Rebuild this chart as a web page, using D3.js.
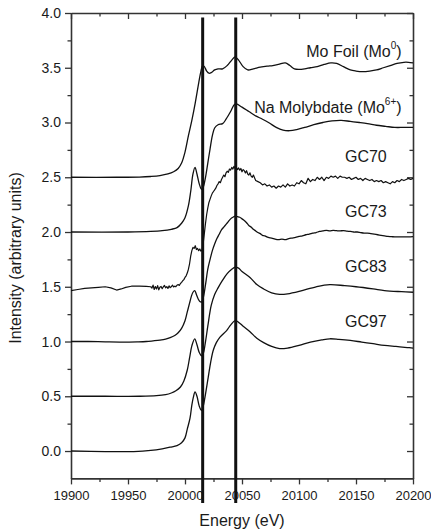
<!DOCTYPE html>
<html>
<head>
<meta charset="UTF-8">
<style>
  body { margin: 0; background: #ffffff; }
  svg text { font-family: Arial, "Liberation Sans", sans-serif; fill: #1a1a1a; }
  .axis path, .axis line { stroke: #333; }
</style>
<script src="https://cdn.jsdelivr.net/npm/d3@7"></script>
</head>
<body>
<svg id="chart" width="431" height="531"></svg>
<script>
// spectra as plotted (energy eV, intensity incl. vertical offset)
var moFoil = [[19900,2.5],[19940,2.5],[19960,2.502],[19970,2.507],[19978,2.515],[19985,2.53],[19990,2.55],[19994,2.58],[19997,2.63],[20000,2.73],[20003,2.88],[20006,3.02],[20009,3.18],[20012,3.36],[20014,3.47],[20015.5,3.52],[20017,3.51],[20019,3.47],[20021,3.45],[20023,3.455],[20026,3.48],[20029,3.49],[20033,3.49],[20037,3.52],[20041,3.57],[20044,3.6],[20047,3.57],[20051,3.51],[20055,3.48],[20060,3.49],[20066,3.505],[20072,3.515],[20077,3.52],[20082,3.53],[20088,3.545],[20092,3.52],[20096,3.49],[20100,3.485],[20105,3.49],[20110,3.5],[20116,3.51],[20122,3.53],[20128,3.545],[20133,3.54],[20139,3.51],[20145,3.48],[20150,3.47],[20156,3.465],[20162,3.47],[20168,3.48],[20174,3.5],[20180,3.52],[20186,3.54],[20192,3.55],[20196,3.55],[20200,3.545]];

var naMolybdate = [[19900,2.0],[19950,2.0],[19970,2.005],[19980,2.012],[19988,2.025],[19993,2.04],[19997,2.08],[20000,2.13],[20003,2.24],[20005,2.37],[20007,2.53],[20008.8,2.59],[20010.5,2.53],[20012.5,2.44],[20014.5,2.39],[20016,2.41],[20018,2.5],[20020,2.63],[20022,2.76],[20024,2.88],[20026,2.95],[20029,2.98],[20033,2.99],[20036,3.03],[20040,3.1],[20043,3.16],[20045,3.17],[20050,3.14],[20056,3.1],[20062,3.06],[20068,3.03],[20074,2.995],[20080,2.955],[20086,2.93],[20092,2.925],[20098,2.935],[20105,2.955],[20113,2.98],[20121,3.0],[20129,3.015],[20137,3.02],[20145,3.01],[20153,3.0],[20160,2.99],[20168,2.975],[20176,2.965],[20184,2.955],[20192,2.955],[20200,2.955]];

var gc70 = [[19900,1.465],[19906,1.475],[19912,1.485],[19918,1.49],[19924,1.495],[19930,1.5],[19935,1.49],[19940,1.47],[19944,1.48],[19948,1.495],[19953,1.505],[19960,1.505],[19966,1.503],[19970,1.5],
  [19971,1.488],[19972,1.515],[19973,1.475],[19974,1.502],[19975,1.48],[19976,1.51],[19977,1.472],[19978,1.495],[19979,1.503],[19980,1.482],[19981,1.5],[19982,1.512],[19983,1.49],[19984,1.502],[19985,1.485],[19986,1.508],[19987,1.492],[19988,1.5],[19989,1.515],[19990,1.498],[19991,1.506],[19992,1.5],[19993,1.514],[19994,1.52],[19995,1.512],[19996,1.53],[19997,1.54],[19998,1.555],[19999,1.565],[20000,1.585],
  [20001,1.6],[20002,1.625],[20003,1.66],[20004,1.71],[20005,1.78],[20006,1.83],[20007,1.86],[20008,1.85],[20009,1.875],[20010,1.84],[20011,1.85],[20012,1.83],[20013,1.845],[20014,1.825],[20015,1.835],[20016,1.9],[20017,1.99],[20018,2.08],[20019,2.16],[20020,2.22],
  [20021,2.27],[20022,2.3],[20023,2.33],[20024,2.355],[20025,2.37],[20026,2.385],[20027,2.4],[20028,2.425],[20029,2.44],[20030,2.46],[20031,2.45],[20032,2.48],[20033,2.5],[20034,2.52],[20035,2.505],[20036,2.54],[20037,2.555],[20038,2.545],[20039,2.575],[20040,2.565],
  [20041,2.59],[20042,2.575],[20043,2.6],[20044,2.58],[20045,2.59],[20046,2.57],[20047,2.585],[20048,2.565],[20049,2.58],[20050,2.55],[20051,2.57],[20052,2.56],[20053,2.54],[20054,2.56],[20055,2.53],[20056,2.52],[20057,2.54],[20058,2.51],[20059,2.5],[20060,2.52],
  [20062,2.47],[20064,2.46],[20066,2.45],[20068,2.43],[20070,2.44],[20072,2.42],[20074,2.43],[20076,2.41],[20078,2.42],[20080,2.4],[20082,2.42],[20084,2.41],[20086,2.43],[20088,2.41],[20090,2.44],[20092,2.42],[20094,2.43],[20096,2.42],[20098,2.45],[20100,2.44],
  [20102,2.47],[20104,2.45],[20106,2.44],[20108,2.49],[20110,2.46],[20112,2.48],[20114,2.47],[20116,2.5],[20118,2.48],[20120,2.5],[20122,2.47],[20124,2.5],[20126,2.49],[20128,2.51],[20130,2.5],[20132,2.51],[20134,2.49],[20136,2.51],[20138,2.5],[20140,2.5],
  [20142,2.49],[20144,2.5],[20146,2.48],[20148,2.49],[20150,2.5],[20152,2.48],[20154,2.49],[20156,2.47],[20158,2.49],[20160,2.48],[20162,2.47],[20164,2.48],[20166,2.46],[20168,2.47],[20170,2.46],[20172,2.47],[20174,2.45],[20176,2.46],[20178,2.45],[20180,2.44],
  [20182,2.46],[20184,2.45],[20186,2.47],[20188,2.46],[20190,2.48],[20192,2.47],[20194,2.48],[20196,2.49],[20198,2.48],[20200,2.49]];

var gc73 = [[19900,1.0],[19915,1.0],[19930,0.997],[19945,0.995],[19958,0.997],[19966,1.0],[19972,1.006],[19978,1.013],[19983,1.022],[19987,1.035],[19991,1.055],[19994,1.08],[19997,1.12],[20000,1.19],[20002,1.27],[20004,1.35],[20005.5,1.41],[20007,1.45],[20008.5,1.465],[20010,1.43],[20011.5,1.39],[20013,1.365],[20014.5,1.36],[20016,1.4],[20018,1.52],[20020,1.66],[20022,1.75],[20024,1.83],[20026,1.89],[20028,1.94],[20030,1.98],[20032,2.02],[20034,2.045],[20036,2.07],[20038,2.095],[20040,2.12],[20042,2.135],[20044,2.145],[20046,2.14],[20048,2.135],[20050,2.12],[20052,2.105],[20054,2.085],[20056,2.06],[20058,2.045],[20060,2.025],[20062,2.01],[20064,1.995],[20066,1.985],[20068,1.97],[20070,1.965],[20073,1.95],[20076,1.945],[20079,1.935],[20082,1.93],[20085,1.935],[20088,1.93],[20091,1.94],[20094,1.945],[20097,1.95],[20100,1.96],[20103,1.965],[20106,1.975],[20109,1.98],[20112,1.99],[20115,1.995],[20118,2.005],[20121,2.01],[20124,2.015],[20127,2.01],[20130,2.015],[20133,2.012],[20136,2.01],[20139,2.013],[20142,2.008],[20145,2.005],[20148,2.0],[20151,2.0],[20154,1.995],[20157,1.99],[20160,1.99],[20163,1.985],[20166,1.98],[20169,1.975],[20172,1.97],[20175,1.965],[20178,1.96],[20181,1.958],[20184,1.955],[20188,1.955],[20192,1.955],[20196,1.956],[20200,1.957]];

var gc83 = [[19900,0.5],[19930,0.5],[19960,0.5],[19975,0.505],[19983,0.515],[19988,0.53],[19992,0.55],[19996,0.585],[19999,0.64],[20002,0.74],[20004,0.85],[20006,0.96],[20008.5,1.025],[20010.5,0.97],[20012.5,0.9],[20014.5,0.87],[20016,0.89],[20018,1.0],[20020,1.14],[20023,1.33],[20026,1.43],[20029,1.49],[20033,1.56],[20037,1.62],[20041,1.66],[20044,1.68],[20047,1.67],[20050,1.64],[20057,1.585],[20063,1.52],[20069,1.48],[20076,1.445],[20083,1.43],[20090,1.435],[20101,1.46],[20115,1.5],[20127,1.52],[20140,1.51],[20150,1.5],[20165,1.48],[20175,1.465],[20190,1.455],[20200,1.45]];

var gc97 = [[19900,0.0],[19930,-0.005],[19955,-0.005],[19970,0.005],[19980,0.02],[19987,0.035],[19993,0.05],[19997,0.075],[20000,0.12],[20002,0.2],[20004.4,0.3],[20006,0.42],[20007.3,0.49],[20008.8,0.54],[20010.5,0.5],[20012.5,0.41],[20014.5,0.37],[20016,0.41],[20017.5,0.49],[20020.4,0.675],[20022.5,0.81],[20024.8,0.92],[20027.5,0.99],[20030.7,1.04],[20036.5,1.1],[20040,1.15],[20044,1.19],[20047,1.175],[20051,1.14],[20057,1.09],[20063,1.03],[20069,0.99],[20076,0.955],[20083,0.935],[20090,0.94],[20100,0.965],[20110,0.995],[20120,1.015],[20127,1.025],[20135,1.02],[20145,1.01],[20155,0.995],[20165,0.98],[20175,0.965],[20185,0.955],[20195,0.945],[20200,0.94]];

var xTicks = [19900, 19950, 20000, 20050, 20100, 20150, 20200];
var xMinor = [19925, 19975, 20025, 20075, 20125, 20175];
var yTicks = [0, 0.5, 1.0, 1.5, 2.0, 2.5, 3.0, 3.5, 4.0];
var yMinor = [0.25, 0.75, 1.25, 1.75, 2.25, 2.75, 3.25, 3.75];
var markerEnergies = [20015.5, 20044.5];

var labelNames = ["Mo Foil (Mo", "Na Molybdate (Mo", "GC70", "GC73", "GC83", "GC97"];
var labelSups = ["0", "6+", "", "", "", ""];

var svg = d3.select("#chart");
var x = d3.scaleLinear().domain([19900, 20200]).range([71, 413]);
var y = d3.scaleLinear().domain([-0.25, 4.0]).range([478.4, 13]);

function noDomain(g) { g.select(".domain").remove(); }

// minor ticks
svg.append("g").attr("class", "axis").attr("transform", "translate(0,478.4)")
  .call(d3.axisBottom(x).tickValues(xMinor).tickSize(3.5).tickFormat("")).call(noDomain);
svg.append("g").attr("class", "axis").attr("transform", "translate(0,13)")
  .call(d3.axisTop(x).tickValues(xMinor).tickSize(-3.5).tickFormat("")).call(noDomain);
svg.append("g").attr("class", "axis").attr("transform", "translate(71,0)")
  .call(d3.axisLeft(y).tickValues(yMinor).tickSize(3.5).tickFormat("")).call(noDomain);
svg.append("g").attr("class", "axis").attr("transform", "translate(413,0)")
  .call(d3.axisRight(y).tickValues(yMinor).tickSize(-3.5).tickFormat("")).call(noDomain);

// major ticks
var xAxis = svg.append("g").attr("class", "axis x-axis").attr("transform", "translate(0,478.4)")
  .call(d3.axisBottom(x).tickValues(xTicks).tickSize(6).tickPadding(6).tickSizeOuter(0).tickFormat(d3.format("d")));
var yAxis = svg.append("g").attr("class", "axis y-axis").attr("transform", "translate(71,0)")
  .call(d3.axisLeft(y).tickValues(yTicks).tickSize(6).tickPadding(4).tickSizeOuter(0).tickFormat(d3.format(".1f")));
svg.append("g").attr("class", "axis").attr("transform", "translate(0,13)")
  .call(d3.axisTop(x).tickValues(xTicks).tickSize(-6).tickSizeOuter(0).tickFormat(""));
svg.append("g").attr("class", "axis").attr("transform", "translate(413,0)")
  .call(d3.axisRight(y).tickValues(yTicks).tickSize(-6).tickSizeOuter(0).tickFormat(""));

svg.selectAll(".axis").attr("font-size", null).attr("font-family", null);
svg.selectAll(".x-axis text").style("font-size", "13px");
svg.selectAll(".y-axis text").style("font-size", "14px");
svg.selectAll(".axis line").attr("stroke-width", 1.3);
svg.selectAll(".axis path.domain").attr("stroke-width", 1.6);

// spectra
var smooth = d3.line().x(function(d){ return x(d[0]); }).y(function(d){ return y(d[1]); })
  .curve(d3.curveCatmullRom.alpha(0.5));
var jagged = d3.line().x(function(d){ return x(d[0]); }).y(function(d){ return y(d[1]); });

[moFoil, naMolybdate, gc73, gc83, gc97].forEach(function(s) {
  svg.append("path").datum(s).attr("d", smooth)
    .attr("fill", "none").attr("stroke", "#111").attr("stroke-width", 1.3);
});
svg.append("path").datum(gc70).attr("d", jagged)
  .attr("fill", "none").attr("stroke", "#111").attr("stroke-width", 1.2).attr("stroke-linejoin", "round");

// vertical marker lines
svg.selectAll(".marker").data(markerEnergies).enter().append("line")
  .attr("x1", function(d){ return x(d); }).attr("x2", function(d){ return x(d); })
  .attr("y1", y(3.96)).attr("y2", y(-0.475))
  .attr("stroke", "#111").attr("stroke-width", 3);

// curve labels
var labelAt = [3.6, 3.084, 2.64, 2.137, 1.635, 1.137];
var labelRight = [20190, 20190, 20177, 20177, 20177, 20177];
labelNames.forEach(function(name, i) {
  var t = svg.append("text")
    .attr("x", x(labelRight[i])).attr("y", y(labelAt[i]))
    .attr("text-anchor", "end").style("font-size", "16px");
  t.append("tspan").text(name);
  if (labelSups[i]) {
    t.append("tspan").attr("dy", -8).style("font-size", "10px").text(labelSups[i]);
    t.append("tspan").attr("dy", 8).text(")");
  }
});

// axis titles
svg.append("text").attr("x", 242).attr("y", 526).attr("text-anchor", "middle")
  .style("font-size", "16px").text("Energy (eV)");
svg.append("text").attr("transform", "translate(21,258) rotate(-90)").attr("text-anchor", "middle")
  .style("font-size", "16px").text("Intensity (arbitrary units)");
</script>
</body>
</html>
